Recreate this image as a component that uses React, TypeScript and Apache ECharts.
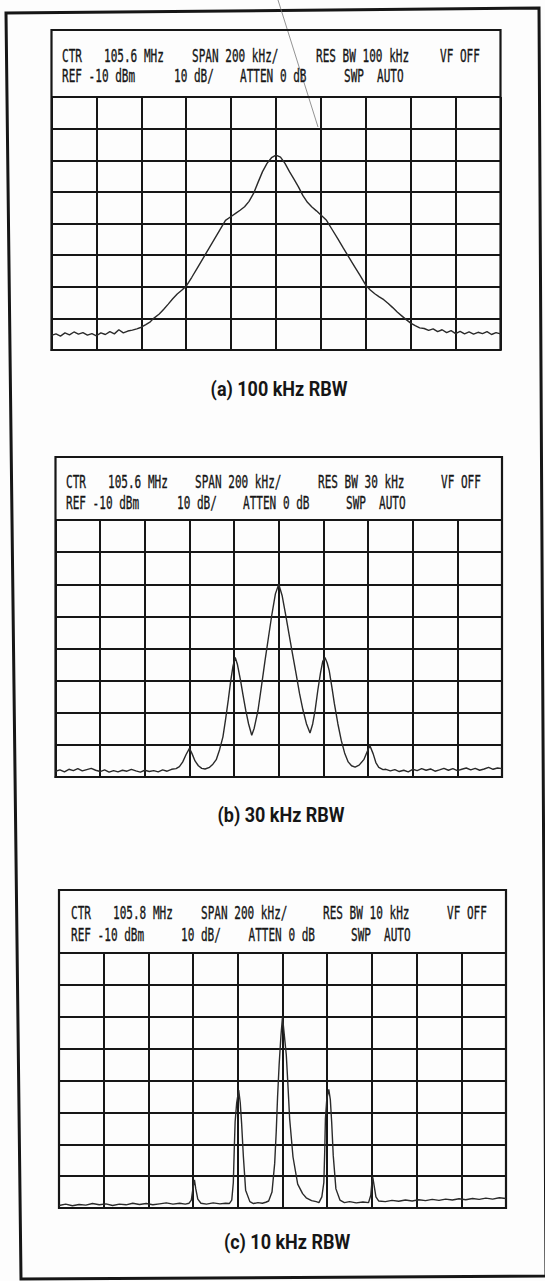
import React, { useEffect, useRef } from "react";
import * as echarts from "echarts";

// ---- Data (frequency offset from centre in kHz, level in dBm) ----
const FREQ_MIN = -1000;
const FREQ_MAX = 1000;
const FREQ_STEP = 200; // 200 kHz / div
const LEVEL_MIN = -90;
const LEVEL_MAX = -10; // REF -10 dBm
const LEVEL_STEP = 10; // 10 dB / div

const header1A = ["CTR", "105.6 MHz", "SPAN 200 kHz/", "RES BW 100 kHz", "VF OFF"];
const header1B = ["CTR", "105.6 MHz", "SPAN 200 kHz/", "RES BW 30 kHz", "VF OFF"];
const header1C = ["CTR", "105.8 MHz", "SPAN 200 kHz/", "RES BW 10 kHz", "VF OFF"];
const header2 = ["REF -10 dBm", "10 dB/", "ATTEN 0 dB", "SWP", "AUTO"];
const captions = ["(a) 100 kHz RBW", "(b) 30 kHz RBW", "(c) 10 kHz RBW"];

const traceA: [number, number][] = [
  [-1000, -85.4], [-980, -84.9], [-960, -85.6], [-940, -84.6], [-920, -85.2], [-900, -84.3],
  [-880, -85.0], [-860, -84.5], [-840, -85.3], [-820, -84.8], [-800, -85.5], [-780, -84.6],
  [-760, -85.1], [-740, -84.2], [-720, -84.9], [-700, -83.6], [-680, -84.6], [-660, -84.0],
  [-640, -83.7], [-620, -83.3], [-600, -82.8], [-580, -82.0], [-560, -81.1], [-545, -80.0],
  [-520, -78.6], [-500, -77.1], [-480, -75.5], [-460, -73.8], [-440, -72.3], [-420, -71.1],
  [-400, -69.8], [-375, -67.0], [-350, -64.0], [-325, -61.0], [-300, -58.0], [-275, -55.0],
  [-250, -52.0], [-225, -49.0], [-200, -47.8], [-180, -46.8], [-160, -45.8], [-140, -44.7],
  [-120, -43.0], [-100, -40.5], [-80, -37.0], [-60, -33.6], [-40, -31.0], [-20, -29.2],
  [0, -28.4], [20, -29.0], [40, -31.0], [60, -33.6], [80, -36.0], [100, -38.4],
  [120, -41.2], [140, -43.3], [160, -44.8], [180, -46.0], [200, -47.3], [225, -49.0],
  [250, -51.9], [275, -54.8], [300, -57.8], [325, -60.7], [350, -63.6], [375, -66.5],
  [400, -69.5], [420, -71.0], [440, -72.2], [460, -73.2], [480, -74.1], [500, -75.3],
  [520, -76.6], [540, -78.0], [560, -79.2], [580, -80.4], [600, -81.5], [620, -82.3],
  [640, -83.0], [660, -83.2], [680, -83.8], [700, -83.3], [720, -84.2], [740, -83.6],
  [760, -84.5], [780, -83.9], [800, -84.8], [820, -84.1], [840, -84.9], [860, -84.3],
  [880, -85.0], [900, -84.4], [920, -84.8], [940, -84.2], [960, -85.1], [980, -84.5],
  [1000, -84.9],
];

const traceB: [number, number][] = [
  [-1000, -88.2], [-980, -87.8], [-960, -88.4], [-940, -87.6], [-920, -88.0], [-900, -87.4],
  [-880, -88.1], [-860, -87.7], [-840, -87.3], [-820, -87.9], [-800, -88.3], [-780, -87.8],
  [-760, -88.5], [-740, -88.0], [-720, -88.4], [-700, -87.9], [-680, -88.2], [-660, -87.6],
  [-640, -88.1], [-620, -88.5], [-600, -87.9], [-580, -88.3], [-560, -88.0], [-540, -88.4],
  [-520, -87.8], [-500, -88.2], [-480, -87.6], [-460, -87.4], [-445, -86.8], [-430, -85.3],
  [-415, -83.0], [-400, -81.1], [-388, -82.8], [-375, -85.0], [-360, -86.5], [-345, -87.3],
  [-330, -87.5], [-310, -87.0], [-295, -86.0], [-280, -84.6], [-265, -81.5], [-250, -77.5],
  [-238, -72.0], [-226, -66.0], [-215, -60.0], [-205, -55.5], [-195, -52.8], [-185, -55.0],
  [-171, -60.0], [-160, -64.5], [-148, -69.2], [-135, -73.5], [-121, -77.0], [-110, -74.8],
  [-93, -69.3], [-78, -62.0], [-62, -54.0], [-46, -46.5], [-31, -39.5], [-15, -33.0],
  [0, -30.0], [15, -33.5], [31, -39.5], [46, -45.5], [62, -51.8], [78, -58.0],
  [93, -64.0], [108, -69.0], [124, -73.4], [140, -76.3], [152, -73.5], [163, -69.2],
  [175, -63.0], [187, -57.6], [197, -54.0], [207, -52.8], [217, -54.5], [226, -56.9],
  [238, -62.0], [249, -67.1], [265, -73.5], [280, -78.6], [295, -82.5], [311, -85.3],
  [326, -86.5], [342, -86.9], [360, -86.3], [381, -84.6], [395, -82.3], [408, -80.2],
  [423, -82.8], [435, -85.5], [448, -87.0], [467, -87.7], [480, -87.6], [500, -88.1],
  [520, -87.7], [540, -88.3], [560, -87.9], [580, -88.4], [600, -87.6], [620, -88.0],
  [640, -87.4], [660, -87.9], [680, -87.5], [700, -88.2], [720, -87.8], [740, -87.3],
  [760, -87.9], [780, -87.4], [800, -88.0], [820, -87.6], [840, -87.2], [860, -87.8],
  [880, -87.3], [900, -87.9], [920, -87.5], [940, -87.0], [960, -87.6], [980, -87.2],
  [1000, -87.4],
];

const traceC: [number, number][] = [
  [-1000, -89.2], [-970, -88.8], [-940, -89.3], [-910, -88.9], [-880, -89.1], [-850, -88.6],
  [-820, -89.0], [-790, -88.7], [-760, -89.2], [-730, -88.8], [-700, -89.0], [-670, -88.5],
  [-640, -88.9], [-610, -88.6], [-580, -89.0], [-550, -88.7], [-520, -88.4], [-490, -88.8],
  [-460, -88.5], [-435, -88.8], [-418, -88.5], [-408, -87.5], [-400, -83.5], [-394, -81.2],
  [-388, -84.0], [-379, -87.2], [-365, -88.5], [-340, -88.8], [-310, -88.4], [-280, -88.7],
  [-255, -88.5], [-238, -88.6], [-227, -87.5], [-220, -82.0], [-216, -72.0], [-212, -63.0],
  [-205, -57.0], [-196, -53.0], [-189, -57.0], [-183, -63.4], [-175, -73.9], [-165, -84.4],
  [-146, -88.0], [-130, -88.6], [-110, -88.3], [-90, -88.5], [-75, -88.2], [-62, -87.8],
  [-47, -85.0], [-35, -76.0], [-28, -66.0], [-22, -55.0], [-15, -45.0], [-7, -36.0],
  [0, -30.0], [7, -35.0], [17, -42.0], [24, -51.0], [32, -62.0], [47, -74.0],
  [68, -82.5], [90, -85.5], [106, -86.8], [130, -87.7], [151, -88.0], [163, -88.3],
  [176, -86.5], [185, -82.0], [189, -72.0], [192, -62.0], [198, -56.0], [207, -52.8],
  [214, -56.0], [220, -63.0], [227, -73.5], [239, -84.0], [257, -87.5], [277, -88.3],
  [300, -88.0], [330, -88.4], [360, -88.1], [385, -88.3], [395, -86.0], [400, -82.0],
  [404, -80.4], [410, -83.0], [418, -86.5], [430, -87.8], [460, -88.0], [490, -87.6],
  [520, -87.9], [550, -87.5], [580, -87.8], [610, -87.4], [640, -87.7], [670, -87.3],
  [700, -87.6], [730, -87.2], [760, -87.5], [790, -87.1], [820, -87.4], [850, -87.0],
  [880, -87.3], [910, -86.9], [940, -87.2], [970, -86.8], [1000, -87.0],
];

// ---- Layout (page pixels) ----
const panels = [
  { l: 51.5, t: 97, w: 449, h: 253, top: 30, y1: 56, y2: 76.5, x1: [62, 104, 192, 316, 440], x2: [62, 174, 240, 344, 377], cx: 279, cy: 389, h1: header1A },
  { l: 55.5, t: 520, w: 446.5, h: 257, top: 457, y1: 482, y2: 503, x1: [66, 108, 195, 318, 441], x2: [66, 177, 243, 346, 379], cx: 281, cy: 815, h1: header1B },
  { l: 59, t: 953, w: 447, h: 255, top: 890, y1: 913, y2: 935, x1: [71, 113, 201, 323, 447], x2: [71, 181, 248.5, 351, 384], cx: 287, cy: 1242, h1: header1C },
];
const traces = [traceA, traceB, traceC];

const INK = "#161616";

export default function App() {
  const ref = useRef<HTMLDivElement>(null);
  useEffect(() => {
    if (!ref.current) return;
    const chart = echarts.init(ref.current, undefined, { renderer: "svg" });
    const graphic: any[] = [];
    // outer frame (slightly skewed scan)
    graphic.push({
      type: "polygon",
      shape: { points: [[6, 13], [539, 8], [546, 1276], [21, 1279]] },
      style: { fill: "none", stroke: INK, lineWidth: 3 },
      silent: true,
    });
    // scan artefact line
    graphic.push({
      type: "line",
      shape: { x1: 278, y1: 0, x2: 318, y2: 127 },
      style: { stroke: "#777", lineWidth: 0.8 },
      silent: true,
    });
    panels.forEach((p, i) => {
      graphic.push({
        type: "rect",
        shape: { x: p.l, y: p.top, width: p.w, height: p.t + p.h - p.top },
        style: { fill: "none", stroke: INK, lineWidth: 2.2 },
        silent: true,
      });
      const font = "17px 'DejaVu Sans Mono', monospace";
      const txtStyle = (txt: string) => ({
        text: txt, x: 0, y: 0, font, fill: INK, stroke: INK, lineWidth: 0.35,
        textAlign: "left", textVerticalAlign: "middle", align: "left", verticalAlign: "middle",
      });
      p.h1.forEach((txt, k) => {
        graphic.push({ type: "text", x: p.x1[k], y: p.y1, scaleX: 0.65, silent: true, style: txtStyle(txt) });
      });
      header2.forEach((txt, k) => {
        graphic.push({ type: "text", x: p.x2[k], y: p.y2, scaleX: 0.65, silent: true, style: txtStyle(txt) });
      });
      graphic.push({
        type: "text", x: p.cx, y: p.cy, scaleX: 0.9, silent: true,
        style: { text: captions[i], x: 0, y: 0, font: "bold 20px Roboto, 'Noto Sans', sans-serif", fill: INK, textAlign: "center", textVerticalAlign: "middle", align: "center", verticalAlign: "middle" },
      });
    });

    const option: any = {
      animation: false,
      backgroundColor: "#fdfdfd",
      grid: panels.map((p) => ({ left: p.l, top: p.t, width: p.w, height: p.h, containLabel: false })),
      xAxis: panels.map((_, i) => ({
        type: "value", gridIndex: i, min: FREQ_MIN, max: FREQ_MAX, interval: FREQ_STEP,
        axisLabel: { show: false }, axisTick: { show: false },
        axisLine: { show: true, lineStyle: { color: INK, width: 2 } },
        splitLine: { show: true, lineStyle: { color: INK, width: 2 } },
      })),
      yAxis: panels.map((_, i) => ({
        type: "value", gridIndex: i, min: LEVEL_MIN, max: LEVEL_MAX, interval: LEVEL_STEP,
        axisLabel: { show: false }, axisTick: { show: false },
        axisLine: { show: true, lineStyle: { color: INK, width: 2 } },
        splitLine: { show: true, lineStyle: { color: INK, width: 2 } },
      })),
      series: traces.map((d, i) => ({
        type: "line", xAxisIndex: i, yAxisIndex: i, data: d,
        showSymbol: false, symbol: "none", silent: true,
        lineStyle: { color: "#2a2a2a", width: 1.4 },
      })),
      graphic,
    };
    chart.setOption(option);
    return () => chart.dispose();
  }, []);
  return (
    <div
      ref={ref}
      style={{ position: "absolute", left: 0, top: 0, width: 545, height: 1281 }}
    />
  );
}
